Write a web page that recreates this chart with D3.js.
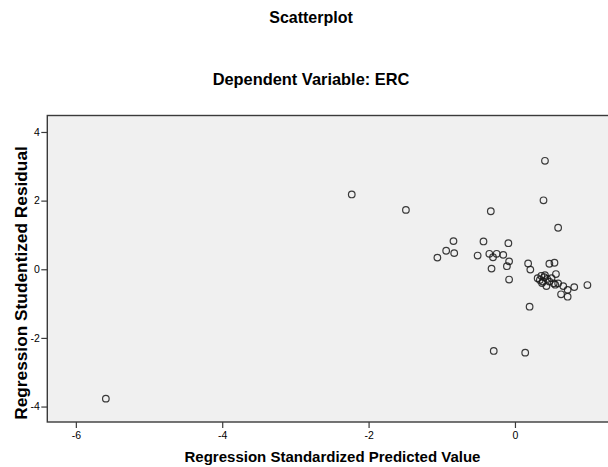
<!DOCTYPE html>
<html>
<head>
<meta charset="utf-8">
<script src="https://cdn.jsdelivr.net/npm/d3@7/dist/d3.min.js"></script>
<style>
  html, body { margin: 0; padding: 0; background: #fff; }
  svg { display: block; }
  text { font-family: "Liberation Sans", Arial, sans-serif; fill: #000; }
</style>
</head>
<body>
<svg id="chart" width="608" height="467"></svg>
<script>
// Data
const predicted = [
  -5.59, -2.23, -1.49, 0.41, 0.39, -0.33, 0.59, -0.84, -0.94, -0.83,
  -1.06, -0.43, -0.09, -0.51, -0.35, -0.30, -0.25, -0.16, -0.08, -0.11,
  -0.32, -0.08, 0.18, 0.21, 0.47, 0.54, 0.20, -0.29, 0.14, 0.99,
  0.81, 0.72, 0.72, 0.63, 0.66, 0.56, 0.36, 0.41, 0.34, 0.38,
  0.43, 0.47, 0.53, 0.59, 0.31, 0.50, 0.40, 0.44, 0.37, 0.55
];
const residual = [
  -3.77, 2.18, 1.73, 3.16, 2.01, 1.69, 1.21, 0.82, 0.54, 0.47,
  0.34, 0.81, 0.76, 0.40, 0.45, 0.35, 0.45, 0.42, 0.23, 0.09,
  0.02, -0.30, 0.17, -0.01, 0.16, 0.19, -1.09, -2.38, -2.43, -0.46,
  -0.52, -0.60, -0.80, -0.73, -0.49, -0.14, -0.19, -0.17, -0.31, -0.36,
  -0.49, -0.36, -0.41, -0.41, -0.26, -0.26, -0.23, -0.28, -0.40, -0.45
];
const xTicks = [-6, -4, -2, 0];
const yTicks = [-4, -2, 0, 2, 4];
const titleText = "Scatterplot";
const subtitleText = "Dependent Variable: ERC";
const xTitle = "Regression Standardized Predicted Value";
const yTitle = "Regression Studentized Residual";

const svg = d3.select("#chart");
const plot = { left: 47.3, right: 609, top: 115.5, bottom: 422 };

const x = d3.scaleLinear().domain([-6.39, 1.285]).range([plot.left, plot.right]);
const y = d3.scaleLinear().domain([-4.45, 4.48]).range([plot.bottom, plot.top]);

// Titles
svg.append("text").attr("x", 311).attr("y", 22.5).attr("text-anchor", "middle")
  .attr("font-size", 16).attr("font-weight", "bold").text(titleText);
svg.append("text").attr("x", 311).attr("y", 84.5).attr("text-anchor", "middle")
  .attr("font-size", 16.4).attr("font-weight", "bold").text(subtitleText);

// Plot background
svg.append("rect")
  .attr("x", plot.left).attr("y", plot.top)
  .attr("width", plot.right - plot.left).attr("height", plot.bottom - plot.top)
  .attr("fill", "#f0f0f0").attr("stroke", "#3a3a3a").attr("stroke-width", 1.4);

// Axes
const xAxis = d3.axisBottom(x).tickValues(xTicks).tickSize(6).tickPadding(4).tickFormat(d3.format("d"));
const yAxis = d3.axisLeft(y).tickValues(yTicks).tickSize(6).tickPadding(1.5).tickFormat(d3.format("d"));

const gx = svg.append("g").attr("transform", `translate(0,${plot.bottom})`).call(xAxis);
const gy = svg.append("g").attr("transform", `translate(${plot.left},0)`).call(yAxis);
[gx, gy].forEach(g => {
  g.select(".domain").remove();
  g.selectAll(".tick line").attr("stroke", "#3a3a3a").attr("stroke-width", 1.2);
  g.selectAll(".tick text").attr("font-size", 10.5).attr("fill", "#000")
    .style("font-family", "'Liberation Sans', Arial, sans-serif");
});
gx.selectAll(".tick text").text(d => d < 0 ? "-" + Math.abs(d) : d);
gy.selectAll(".tick text").text(d => d < 0 ? "-" + Math.abs(d) : d);

// Axis titles
svg.append("text").attr("x", 332.5).attr("y", 462).attr("text-anchor", "middle")
  .attr("font-size", 15).attr("font-weight", "bold").text(xTitle);
svg.append("text").attr("transform", `translate(27,283) rotate(-90)`).attr("text-anchor", "middle")
  .attr("font-size", 17.3).attr("font-weight", "bold").text(yTitle);

// Points
const pts = predicted.map((p, i) => ({ p, r: residual[i] }));
svg.append("g").selectAll("circle").data(pts).join("circle")
  .attr("cx", d => x(d.p)).attr("cy", d => y(d.r)).attr("r", 3.3)
  .attr("fill", "none").attr("stroke", "#1a1a1a").attr("stroke-width", 1.2)
  .attr("stroke-opacity", 0.85);
</script>
</body>
</html>
